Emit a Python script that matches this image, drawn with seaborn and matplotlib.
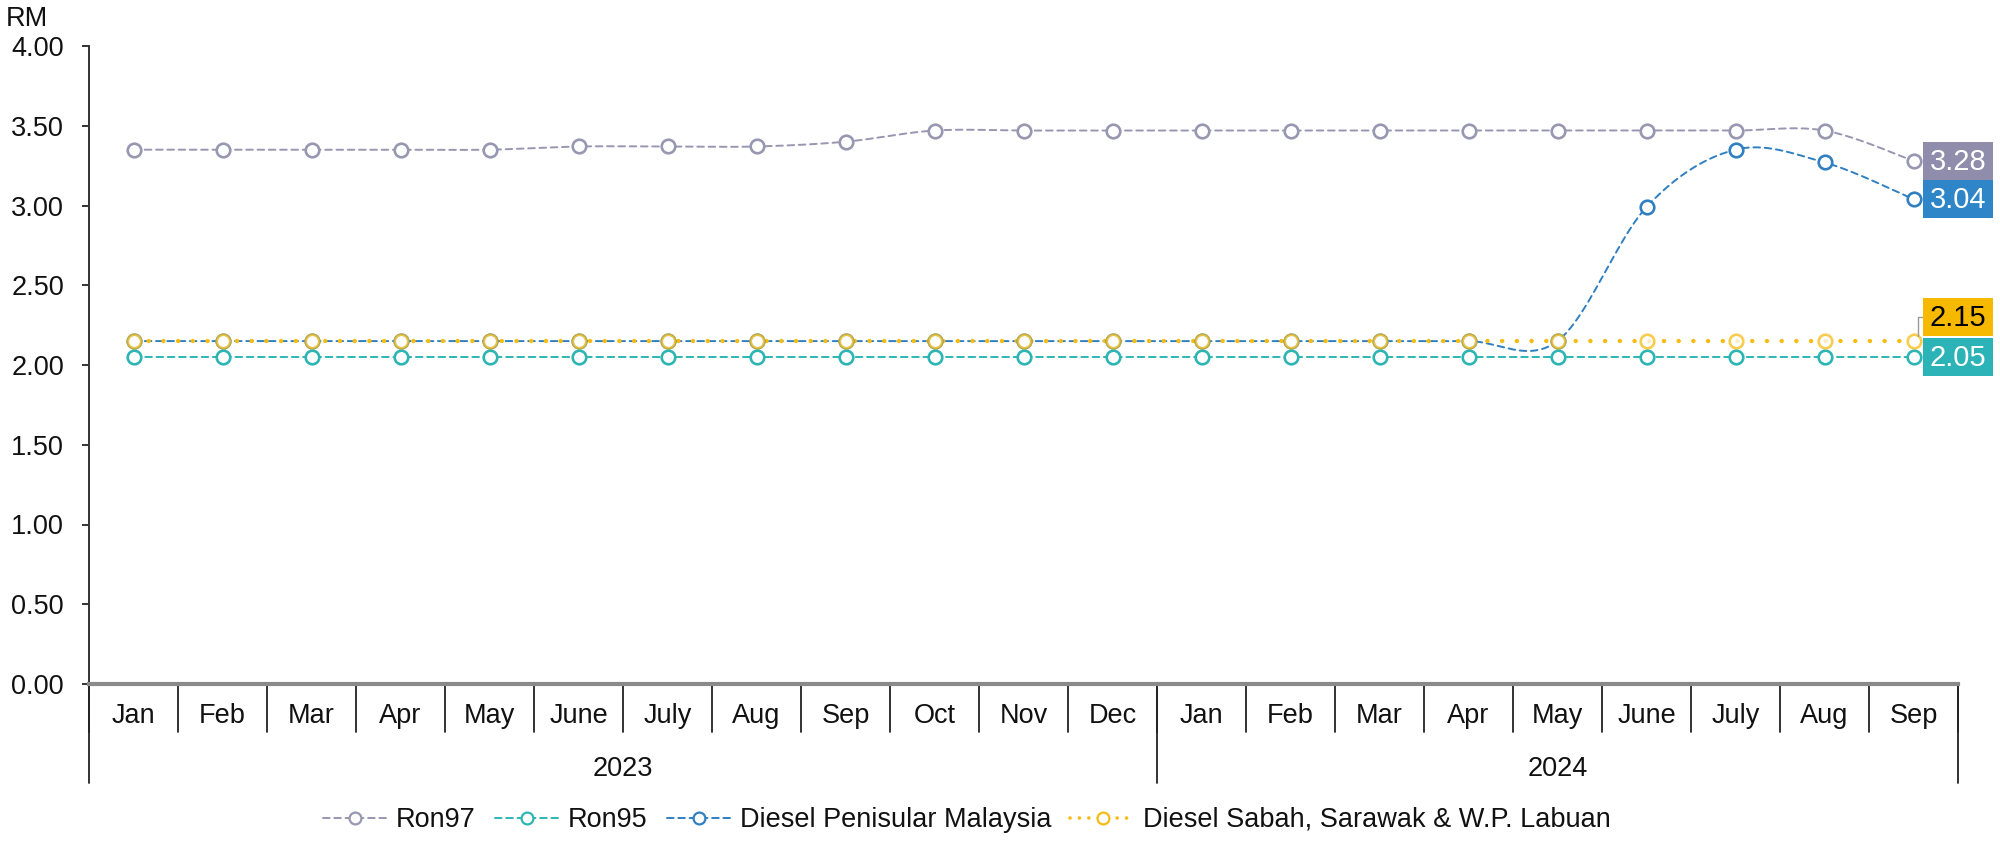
import numpy as np
import pandas as pd
import matplotlib
matplotlib.use("Agg")
import matplotlib.pyplot as plt
from matplotlib.lines import Line2D
from matplotlib.patches import Rectangle
import seaborn as sns

months = ["Jan", "Feb", "Mar", "Apr", "May", "June", "July", "Aug", "Sep", "Oct", "Nov", "Dec",
          "Jan", "Feb", "Mar", "Apr", "May", "June", "July", "Aug", "Sep"]
years = ["2023", "2024"]
year_counts = [12, 9]
ron97 = [3.35, 3.35, 3.35, 3.35, 3.35, 3.37, 3.37, 3.37, 3.40, 3.47, 3.47, 3.47,
         3.47, 3.47, 3.47, 3.47, 3.47, 3.47, 3.47, 3.47, 3.28]
ron95 = [2.05] * 21
diesel_pen = [2.15, 2.15, 2.15, 2.15, 2.15, 2.15, 2.15, 2.15, 2.15, 2.15, 2.15, 2.15,
              2.15, 2.15, 2.15, 2.15, 2.15, 2.99, 3.35, 3.27, 3.04]
diesel_sabah = [2.15] * 21
series_names = ["Ron97", "Ron95", "Diesel Penisular Malaysia", "Diesel Sabah, Sarawak & W.P. Labuan"]
yticks = [0.0, 0.5, 1.0, 1.5, 2.0, 2.5, 3.0, 3.5, 4.0]

colors = ["#9896B0", "#2CB5B3", "#2F7FC1", "#F6BC12"]
label_bg = ["#8F8DAB", "#2CB3B8", "#2E86C8", "#F7B900"]
label_fg = ["white", "white", "white", "black"]

sns.set_theme(style="white")
plt.rcParams["font.family"] = ["Liberation Sans", "DejaVu Sans"]
FS = 19.5
TXT = "#111111"


def smooth(xs, ys, n=40):
    pts = np.column_stack([xs, ys]).astype(float)
    out = []
    m = len(pts)
    for i in range(m - 1):
        p0 = pts[i - 1] if i > 0 else pts[i]
        p1 = pts[i]
        p2 = pts[i + 1]
        p3 = pts[i + 2] if i + 2 < m else pts[i + 1]
        c1 = p1 + (p2 - p0) / 6.0
        c2 = p2 - (p3 - p1) / 6.0
        t = np.linspace(0, 1, n, endpoint=(i == m - 2))[:, None]
        b = ((1 - t) ** 3) * p1 + 3 * ((1 - t) ** 2) * t * c1 + 3 * (1 - t) * t ** 2 * c2 + t ** 3 * p2
        out.append(b)
    out = np.vstack(out)
    return out[:, 0], out[:, 1]


fig = plt.figure(figsize=(20, 8.41), dpi=100)
ax = fig.add_axes([0.0445, 1 - 684 / 841, 0.979 - 0.0445, (684 - 46) / 841])

x = np.arange(len(months))
all_series = [ron97, ron95, diesel_pen, diesel_sabah]
styles = [(0, (3.4, 2.4)), (0, (3.4, 2.4)), (0, (3.4, 2.4)), (0, (0.01, 3.3))]
lws = [1.4, 1.4, 1.4, 3.2]

for k, (name, vals) in enumerate(zip(series_names, all_series)):
    sx, sy = smooth(x, vals)
    df = pd.DataFrame({"x": sx, "y": sy})
    sns.lineplot(data=df, x="x", y="y", ax=ax, color=colors[k], linewidth=lws[k],
                 linestyle=styles[k], sort=False, estimator=None, zorder=2 + k)

for k, (name, vals) in enumerate(zip(series_names, all_series)):
    dfp = pd.DataFrame({"x": x, "y": vals})
    sns.scatterplot(data=dfp, x="x", y="y", ax=ax, s=95, facecolor="white",
                    edgecolor=colors[k], linewidth=1.9, zorder=10 + k,
                    alpha=0.75 if k == 3 else 1.0)

for line in ax.get_lines():
    line.set_dash_capstyle("round")

ax.set_xlim(-0.5, len(months) - 0.5)
ax.set_ylim(0, 4.0)
ax.set_yticks(yticks)
ax.set_yticklabels([f"{v:.2f}" for v in yticks], fontsize=FS, color=TXT)
ax.set_xticks([])
ax.set_xlabel("")
ax.set_ylabel("")
for s in ["top", "right"]:
    ax.spines[s].set_visible(False)
ax.spines["bottom"].set_color("#8a8a8a")
ax.spines["bottom"].set_linewidth(3)
ax.spines["left"].set_color("#333333")
ax.spines["left"].set_linewidth(1.4)
ax.tick_params(axis="y", which="both", left=True, length=5, width=1.4, color="#333333", pad=13)

trans = ax.get_xaxis_transform()
month_sep_bottom = -0.075
year_sep_bottom = -0.155
for i in range(len(months) + 1):
    ax.plot([i - 0.5, i - 0.5], [0, month_sep_bottom], transform=trans, color="#222222",
            linewidth=1.3, clip_on=False, zorder=1)
for i, m in enumerate(months):
    ax.text(i, -0.05, m, transform=trans, ha="center", va="center", fontsize=FS, color=TXT)

start = 0
bounds = [-0.5]
for yr, cnt in zip(years, year_counts):
    center = start + (cnt - 1) / 2
    ax.text(center, -0.134, yr, transform=trans, ha="center", va="center", fontsize=FS, color=TXT)
    start += cnt
    bounds.append(start - 0.5)
for b in bounds:
    ax.plot([b, b], [0, year_sep_bottom], transform=trans, color="#222222",
            linewidth=1.3, clip_on=False, zorder=1)

# end labels (boxes)
last = len(months) - 1
box_x = last + 0.107
box_w = 0.787
box_h = 0.24
label_y = [ron97[last], ron95[last], diesel_pen[last], diesel_sabah[last] + 0.15]
for k, vals in enumerate(all_series):
    ax.add_patch(Rectangle((box_x, label_y[k] - box_h / 2), box_w, box_h, facecolor=label_bg[k],
                           edgecolor="none", clip_on=False, zorder=20))
    ax.text(box_x + box_w / 2, label_y[k] - 0.005, f"{vals[last]:.2f}", ha="center", va="center",
            fontsize=21, color=label_fg[k], zorder=21, clip_on=False)
# leader line for Sabah label
ax.plot([last + 0.05, last + 0.05, box_x], [diesel_sabah[last] + 0.03, label_y[3], label_y[3]],
        color="#999999", linewidth=1.0, zorder=19, clip_on=False)

fig.text(0.003, 1 - 19 / 841, "RM", ha="left", va="center", fontsize=FS, color=TXT)

handles = [Line2D([0], [0], color=colors[k], linewidth=lws[k] if k < 3 else 2.6,
                  linestyle=styles[k] if k < 3 else (0, (0.01, 2.6)), dash_capstyle="round",
                  marker="o", markersize=8.5, markerfacecolor="white",
                  markeredgecolor=colors[k], markeredgewidth=1.6) for k in range(4)]
leg = fig.legend(handles, series_names, loc="center", bbox_to_anchor=(0.4835, 1 - 820 / 841), ncol=4,
                 frameon=False, fontsize=FS, handlelength=2.4, handletextpad=0.3, columnspacing=0.7)
for t in leg.get_texts():
    t.set_color(TXT)

fig.savefig("out.png", dpi=100)
